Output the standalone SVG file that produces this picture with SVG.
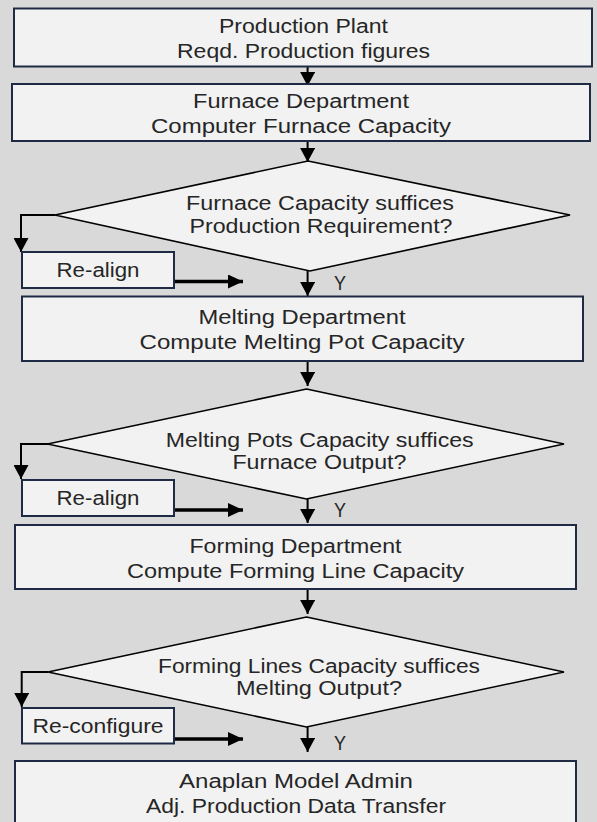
<svg xmlns="http://www.w3.org/2000/svg" width="597" height="822" viewBox="0 0 597 822">
  <defs>
    <style>
      .box { fill: #f2f2f2; stroke: #1f2a44; stroke-width: 2; }
      .dia { fill: #f2f2f2; stroke: #000; stroke-width: 1.6; stroke-linejoin: miter; }
      .lbl { font-family: "Liberation Sans", Arial, sans-serif; font-size: 19.5px; fill: #262626; text-anchor: middle; }
      .flow { fill: none; stroke: #000; stroke-width: 2; }
      .back { fill: none; stroke: #000; stroke-width: 3.3; }
    </style>
    <marker id="head" markerUnits="userSpaceOnUse" markerWidth="15" markerHeight="15" refX="14" refY="7.5" orient="auto">
      <path d="M0,0 L14,7.5 L0,15 Z" fill="#000"/>
    </marker>
    <marker id="headBack" markerUnits="userSpaceOnUse" markerWidth="15" markerHeight="14" refX="15" refY="7" orient="auto">
      <path d="M0,0 L15,7 L0,14 Z" fill="#000"/>
    </marker>
  </defs>

  <rect x="0" y="0" width="597" height="822" fill="#d9d9d9"/>

  <!-- connectors -->
  <g id="connectors">
    <line class="flow" x1="307.6" y1="66" x2="307.6" y2="86" marker-end="url(#head)"/>
    <line class="flow" x1="307.6" y1="141" x2="307.6" y2="162" marker-end="url(#head)"/>
    <polyline class="flow" points="55,215 21,215 21,252" marker-end="url(#head)"/>
    <line class="back" x1="174" y1="281.5" x2="243" y2="281.5" marker-end="url(#headBack)"/>
    <line class="flow" x1="307.6" y1="271" x2="307.6" y2="296" marker-end="url(#head)"/>

    <line class="flow" x1="307.6" y1="361" x2="307.6" y2="386" marker-end="url(#head)"/>
    <polyline class="flow" points="48,444 21,444 21,479" marker-end="url(#head)"/>
    <line class="back" x1="174" y1="510" x2="243" y2="510" marker-end="url(#headBack)"/>
    <line class="flow" x1="307.6" y1="499" x2="307.6" y2="523" marker-end="url(#head)"/>

    <line class="flow" x1="307.6" y1="589" x2="307.6" y2="614" marker-end="url(#head)"/>
    <polyline class="flow" points="48,672 21.7,672 21.7,707" marker-end="url(#head)"/>
    <line class="back" x1="174" y1="739" x2="243" y2="739" marker-end="url(#headBack)"/>
    <line class="flow" x1="307.6" y1="727" x2="307.6" y2="752" marker-end="url(#head)"/>

    <text class="lbl" x="340" y="290" textLength="12" lengthAdjust="spacingAndGlyphs">Y</text>
    <text class="lbl" x="340" y="517" textLength="12" lengthAdjust="spacingAndGlyphs">Y</text>
    <text class="lbl" x="340" y="750" textLength="12" lengthAdjust="spacingAndGlyphs">Y</text>
  </g>

  <!-- process boxes and decisions -->
  <g id="plant">
    <rect class="box" x="14" y="8.5" width="578" height="58"/>
    <text class="lbl" x="303.5" y="32.7" textLength="169" lengthAdjust="spacingAndGlyphs">Production Plant</text>
    <text class="lbl" x="303.5" y="58.3" textLength="253" lengthAdjust="spacingAndGlyphs">Reqd. Production figures</text>
  </g>

  <g id="furnace">
    <rect class="box" x="12" y="84" width="578" height="57"/>
    <text class="lbl" x="301" y="108.3" textLength="216" lengthAdjust="spacingAndGlyphs">Furnace Department</text>
    <text class="lbl" x="301" y="133.3" textLength="300" lengthAdjust="spacingAndGlyphs">Computer Furnace Capacity</text>
  </g>

  <g id="furnace-check">
    <polygon class="dia" points="308,161 570,215 310,271 55,215"/>
    <text class="lbl" x="320" y="210" textLength="268" lengthAdjust="spacingAndGlyphs">Furnace Capacity suffices</text>
    <text class="lbl" x="321" y="232.7" textLength="263" lengthAdjust="spacingAndGlyphs">Production Requirement?</text>
  </g>

  <g id="realign-1">
    <rect class="box" x="22" y="252" width="152" height="36"/>
    <text class="lbl" x="98" y="277.3" textLength="83" lengthAdjust="spacingAndGlyphs">Re-align</text>
  </g>

  <g id="melting">
    <rect class="box" x="22" y="296.5" width="561" height="64.5"/>
    <text class="lbl" x="302" y="324" textLength="207" lengthAdjust="spacingAndGlyphs">Melting Department</text>
    <text class="lbl" x="302" y="349.3" textLength="325" lengthAdjust="spacingAndGlyphs">Compute Melting Pot Capacity</text>
  </g>

  <g id="melting-check">
    <polygon class="dia" points="306.5,389 564,444 306.5,499 47.6,444"/>
    <text class="lbl" x="319.7" y="447.3" textLength="308" lengthAdjust="spacingAndGlyphs">Melting Pots Capacity suffices</text>
    <text class="lbl" x="319.4" y="469.3" textLength="174" lengthAdjust="spacingAndGlyphs">Furnace Output?</text>
  </g>

  <g id="realign-2">
    <rect class="box" x="22" y="480" width="152" height="36"/>
    <text class="lbl" x="98" y="505" textLength="83" lengthAdjust="spacingAndGlyphs">Re-align</text>
  </g>

  <g id="forming">
    <rect class="box" x="15" y="525" width="561" height="64"/>
    <text class="lbl" x="295.5" y="553" textLength="212" lengthAdjust="spacingAndGlyphs">Forming Department</text>
    <text class="lbl" x="295.5" y="578" textLength="337" lengthAdjust="spacingAndGlyphs">Compute Forming Line Capacity</text>
  </g>

  <g id="forming-check">
    <polygon class="dia" points="306.5,617 564,672 306.5,727 48,672"/>
    <text class="lbl" x="319" y="672.7" textLength="322" lengthAdjust="spacingAndGlyphs">Forming Lines Capacity suffices</text>
    <text class="lbl" x="319" y="695" textLength="166" lengthAdjust="spacingAndGlyphs">Melting Output?</text>
  </g>

  <g id="reconfigure">
    <rect class="box" x="22" y="708" width="152" height="35.5"/>
    <text class="lbl" x="98" y="733.3" textLength="131" lengthAdjust="spacingAndGlyphs">Re-configure</text>
  </g>

  <g id="model-admin">
    <rect class="box" x="15" y="761" width="561" height="75"/>
    <text class="lbl" x="296" y="788" textLength="234" lengthAdjust="spacingAndGlyphs">Anaplan Model Admin</text>
    <text class="lbl" x="296" y="813" textLength="300" lengthAdjust="spacingAndGlyphs">Adj. Production Data Transfer</text>
  </g>
</svg>
